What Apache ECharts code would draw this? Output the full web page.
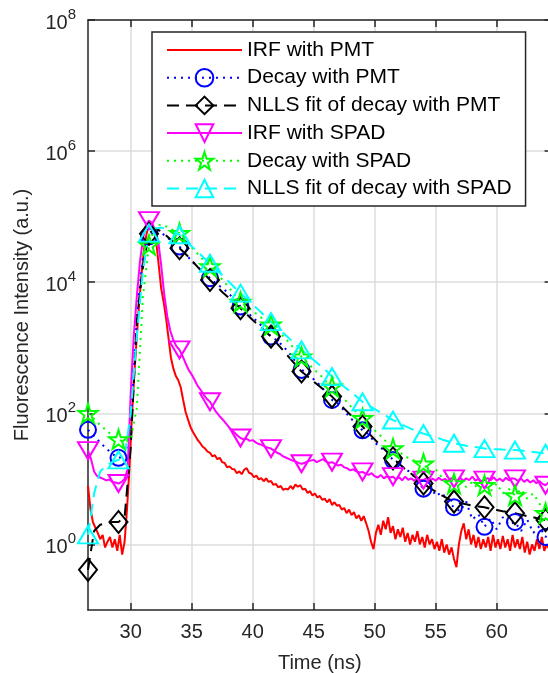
<!DOCTYPE html>
<html><head><meta charset="utf-8">
<script src="https://cdn.jsdelivr.net/npm/echarts@6/dist/echarts.min.js"></script>
<style>html,body{margin:0;padding:0;background:#fff}#c{width:548px;height:673px}</style>
</head><body><div id="c"></div>
<script>
// ---- data (time axis in ns, intensity in a.u.) ----
const T0 = 26.5;               // first time sample (ns)
const xTicks = [30, 35, 40, 45, 50, 55, 60];
const yTicks = [1, 100, 1e4, 1e6, 1e8];

// IRF with PMT, 0.2 ns bins from 26.5 ns (rows = 1 ns)
const irfPMT = [
  7.8, 3.5, 2.2, 1.8, 1.5,
  1.2, 1.4, 0.9, 1.1, 1.3,
  0.9, 1.2, 0.8, 1.4, 0.7,
  1.1, 3.5, 15, 90, 400,
  1500, 5000, 14000, 32000, 55000,
  75000, 80000, 65000, 40000, 18000,
  8000, 5000, 2800, 1400, 700,
  480, 370, 320, 250, 160,
  105, 80, 62, 52, 45,
  39, 35, 31, 29, 26,
  25, 22, 23, 20, 21,
  18, 17.5, 15, 15.5, 14.2,
  14, 12.2, 13, 11.8, 13.8,
  14.6, 12.4, 12, 10.6, 11.2,
  9.8, 10.3, 9.2, 10.2, 9.0,
  9.3, 8.1, 8.4, 7.4, 7.8,
  6.8, 7.1, 6.9, 7.8, 7.0,
  8.2, 7.6, 8.0, 6.9, 7.1,
  6.1, 6.5, 5.6, 6.0, 5.2,
  5.5, 4.8, 5.0, 4.4, 4.9,
  4.0, 4.4, 3.9, 4.0, 3.4,
  3.6, 3.0, 3.4, 2.8, 3.1,
  2.5, 2.8, 2.3, 2.7, 2.1,
  1.6, 1.1, 0.85, 1.5, 2.0,
  1.4, 2.3, 1.7, 2.6, 1.5,
  1.9, 1.2, 1.7, 1.3, 1.8,
  1.1, 1.5, 1.0, 1.4, 1.1,
  1.6, 1.0, 1.3, 0.9, 1.4,
  1.0, 1.2, 0.85, 1.1, 0.8,
  1.2, 0.75, 1.0, 0.7, 0.9,
  0.6, 0.45, 1.0, 1.6, 2.1,
  1.2, 1.7, 1.0, 1.4, 0.9,
  1.3, 0.85, 1.2, 0.9, 1.3,
  0.8, 1.4, 0.9, 1.2, 0.85,
  1.35, 0.9, 1.2, 0.8, 1.4,
  0.9, 1.2, 0.85, 1.3, 0.75,
  1.1, 0.7, 1.0, 0.8, 1.2,
  0.85, 1.3, 0.8, 1.0, 0.85,
  1.1
];

// Decay with PMT, 0.5 ns bins (rows = 5 ns)
const decayPMT = [
  56, 45, 36, 29, 24, 21, 22, 60, 3000, 25000,
  50000, 62000, 57000, 48000, 40000, 35000, 27000, 21000, 17000, 14000,
  11500, 9500, 8200, 6800, 5500, 4260, 3600, 2900, 2400, 1900,
  1480, 1300, 1050, 830, 620, 460, 420, 330, 270, 210,
  160, 140, 110, 85, 70, 55, 48, 36, 30, 25,
  19.4, 17, 14, 12.5, 9, 7.1, 8.5, 5.5, 6.2, 4.5,
  3.7, 3.2, 4.5, 2.4, 2.9, 1.86, 2.5, 1.7, 2.6, 2.0,
  2.2, 1.6, 2.4, 1.5, 1.9, 1.3,
  1.6
];

// NLLS fit of decay with PMT, 0.5 ns bins
const fitPMT = [
  0.41, 1.6, 2.0, 2.1, 2.2, 2.2, 2.6, 30, 2600, 17000,
  55000, 66000, 60000, 50000, 41000, 33000, 27000, 21500, 17000, 13700,
  10800, 8800, 7100, 5900, 4800, 4000, 3250, 2650, 2200, 1800,
  1480, 1160, 910, 710, 555, 435, 365, 305, 256, 215,
  180, 145, 118, 95, 77, 63, 50, 40, 32, 26,
  20.6, 17, 14, 12, 10, 8.5, 7.3, 6.4, 5.6, 5.0,
  4.5, 4.3, 4.1, 3.9, 3.8, 3.7, 3.5, 3.35, 3.2, 3.1,
  3.0, 2.85, 2.7, 2.6, 2.45, 2.35,
  2.3
];

// IRF with SPAD, 0.25 ns bins (rows = 1 ns)
const irfSPAD = [
  27, 20, 13, 11,
  10.5, 10, 9.5, 9.8,
  9, 8.8, 8.5, 9,
  10, 14, 200, 1500,
  6000, 20000, 45000, 75000,
  87000, 80000, 62000, 43000,
  18000, 6500, 3000, 1800,
  1300, 1050, 930, 750,
  580, 460, 390, 320,
  260, 225, 190, 165,
  150, 125, 105, 92,
  82, 72, 63, 56,
  51, 46, 42, 40,
  41, 38, 39, 36,
  34, 33, 31, 30,
  29, 27, 25, 24,
  22, 21, 20, 19,
  18.5, 17.5, 17, 17.5,
  18.5, 19, 19.5, 18,
  19, 20, 18.5, 17.5,
  18, 17, 16, 16.5,
  15, 14.5, 13.5, 14,
  13, 12.5, 12.8, 12,
  11.5, 12.2, 11, 10.5,
  11.5, 10.2, 11, 10.5,
  10.8, 9.8, 10.6, 9.5,
  10.8, 9.7, 10.2, 9.3,
  10.5, 9.6, 9.6, 10.3,
  9.2, 10.1, 9.4, 10.4,
  9.5, 10, 9.2, 10.2,
  10, 9.4, 10.5, 9.3,
  10.2, 9.6, 10.8, 9.4,
  10, 9.2, 9.6, 10.3,
  9.5, 10.6, 9.4, 10.1,
  9.2, 10.4, 9.5, 10.2,
  10, 9.3, 10.1, 9,
  9.8, 8.8, 9.5, 8.6,
  9.3, 8.4, 8, 8.8,
  8.5
];

// Decay with SPAD, 0.5 ns bins
const decaySPAD = [
  100, 82, 66, 55, 46, 40, 36, 40, 120, 6000,
  37000, 72000, 76000, 70000, 62000, 56000, 44000, 34000, 27000, 21500,
  17400, 14000, 11000, 8500, 6500, 5000, 4300, 3650, 3050, 2650,
  2240, 1800, 1500, 1200, 920, 730, 590, 470, 390, 310,
  255, 200, 165, 130, 105, 84, 70, 55, 45, 36,
  29, 26, 22, 20, 18, 17, 13, 14, 10.5, 11,
  8.5, 10, 7.5, 9, 7, 8, 6.5, 8.5, 6, 7,
  5.6, 7, 5, 6, 4.2, 3.0,
  4.5
];

// NLLS fit of decay with SPAD, 0.5 ns bins
const fitSPAD = [
  1.4, 6, 13, 16, 18, 19.5, 22, 100, 1500, 15000,
  56000, 66000, 68000, 64000, 58000, 53000, 43000, 35000, 29000, 23500,
  19500, 15800, 12800, 10400, 8400, 6800, 5600, 4600, 3750, 3050,
  2500, 2050, 1680, 1380, 1130, 930, 780, 650, 540, 450,
  363, 305, 255, 215, 180, 150, 132, 116, 102, 90,
  79, 71, 64, 58, 53, 49, 46, 43, 40, 37.5,
  35, 33.5, 32, 31, 30, 29, 28.6, 28.3, 28, 27.8,
  27.5, 27, 26.4, 25.8, 25.1, 24.5,
  24
];

const names = ['IRF with PMT', 'Decay with PMT', 'NLLS fit of decay with PMT',
               'IRF with SPAD', 'Decay with SPAD', 'NLLS fit of decay with SPAD'];

// ---- helpers ----
function pairs(vals, step) { return vals.map((v, i) => [Math.round((T0 + i * step) * 100) / 100, v]); }
function markers(vals, step, every) {
  const out = [];
  for (let i = 0; i < vals.length; i += every) {
    const t = Math.round((T0 + i * step) * 100) / 100;
    if (t <= 64.01) out.push([t, vals[i]]);
  }
  return out;
}
const FONT = 'Liberation Sans, Arial, Helvetica, sans-serif';
const AX = '#262626';
const STAR = 'path://M100,0 L122.45,69.1 L195.1,69.1 L136.3,111.8 L158.8,180.9 L100,138.2 L41.2,180.9 L63.7,111.8 L4.9,69.1 L77.55,69.1 Z';
const DASH = [12, 7], DOT = [2, 5];
const TRANSP = 'rgba(0,0,0,0)';

function dense(name, data, color, type) {
  return { type: 'line', name: name, data: data, symbol: 'none', silent: true,
    lineStyle: { color: color, width: 2, type: type }, itemStyle: { color: color }, z: 2 };
}
function marks(name, data, color, symbol, size, rotate) {
  return { type: 'line', name: name, data: data, symbol: symbol, symbolSize: size,
    symbolRotate: rotate || 0, showSymbol: true, showAllSymbol: true, silent: true,
    lineStyle: { color: color, width: 2, opacity: 0 },
    itemStyle: { color: TRANSP, borderColor: color, borderWidth: 2 }, z: 3 };
}
function legItem(name, color, type, hasMarker) {
  return { name: name,
    itemStyle: hasMarker ? { color: TRANSP, borderColor: color, borderWidth: 2, opacity: 1 } : { opacity: 0 },
    lineStyle: { color: color, width: 2, type: type, opacity: 1 } };
}

const chart = echarts.init(document.getElementById('c'), null, { renderer: 'canvas' });

const axisLineStyle = { color: AX, width: 1.5 };
const labelStyle = { fontSize: 20, fontFamily: FONT, color: AX };

chart.setOption({
  animation: false,
  backgroundColor: '#fff',
  grid: { left: 88, top: 20, width: 463.6, height: 590, containLabel: false, outerBoundsMode: 'none' },
  xAxis: [{
    type: 'value', min: 26.5, max: 64.5, position: 'bottom',
    axisLine: { show: true, onZero: false, lineStyle: axisLineStyle },
    axisTick: { show: true, inside: true, length: 7, customValues: xTicks, lineStyle: axisLineStyle },
    axisLabel: { show: true, customValues: xTicks, margin: 12, ...labelStyle },
    splitLine: { show: true, lineStyle: { color: '#dcdcdc', width: 1.5 } },
    name: 'Time (ns)', nameLocation: 'middle', nameGap: 43,
    nameTextStyle: { fontSize: 20, fontFamily: FONT, color: AX }
  }, {
    type: 'value', min: 26.5, max: 64.5, position: 'top',
    axisLine: { show: true, onZero: false, lineStyle: axisLineStyle },
    axisTick: { show: true, inside: true, length: 7, customValues: xTicks, lineStyle: axisLineStyle },
    axisLabel: { show: false }, splitLine: { show: false }
  }],
  yAxis: [{
    type: 'log', logBase: 10, min: 0.1, max: 1e8, position: 'left',
    axisLine: { show: true, onZero: false, lineStyle: axisLineStyle },
    axisTick: { show: true, inside: true, length: 7, customValues: yTicks, lineStyle: axisLineStyle },
    minorTick: { show: false },
    axisLabel: { show: true, customValues: yTicks, margin: 12,
      formatter: v => '{b|10}{s|' + Math.round(Math.log10(v)) + '}',
      rich: {
        b: { fontSize: 20, fontFamily: FONT, color: AX, lineHeight: 26, verticalAlign: 'bottom' },
        s: { fontSize: 15, fontFamily: FONT, color: AX, lineHeight: 15, verticalAlign: 'top' }
      } },
    splitLine: { show: true, lineStyle: { color: '#dcdcdc', width: 1.5 } },
    name: 'Fluorescence Intensity (a.u.)', nameLocation: 'middle', nameGap: 56,
    nameTextStyle: { fontSize: 20, fontFamily: FONT, color: AX }
  }, {
    type: 'log', logBase: 10, min: 0.1, max: 1e8, position: 'right',
    axisLine: { show: true, onZero: false, lineStyle: axisLineStyle },
    axisTick: { show: true, inside: true, length: 7, customValues: yTicks, lineStyle: axisLineStyle },
    axisLabel: { show: false }, splitLine: { show: false }
  }],
  legend: {
    left: 152, top: 32, orient: 'vertical', selectedMode: false,
    itemWidth: 75, itemHeight: 22, itemGap: 5.7, padding: [7, 14, 6.5, 14],
    borderColor: AX, borderWidth: 1.5, backgroundColor: '#fff', borderRadius: 0,
    textStyle: { fontSize: 21, fontFamily: FONT, color: '#000', lineHeight: 22 },
    data: [
      legItem(names[0], '#ff0000', 'solid', false),
      legItem(names[1], '#0000ff', DOT, true),
      legItem(names[2], '#000000', DASH, true),
      legItem(names[3], '#ff00ff', 'solid', true),
      legItem(names[4], '#00ff00', DOT, true),
      legItem(names[5], '#00ffff', DASH, true)
    ]
  },
  series: [
    dense(names[0], pairs(irfPMT, 0.2), '#ff0000', 'solid'),
    dense('_d1', pairs(decayPMT, 0.5), '#0000ff', DOT),
    marks(names[1], markers(decayPMT, 0.5, 5), '#0000ff', 'circle', 16),
    dense('_d2', pairs(fitPMT, 0.5), '#000000', DASH),
    marks(names[2], markers(fitPMT, 0.5, 5), '#000000', 'diamond', [18, 22]),
    dense('_d3', pairs(irfSPAD, 0.25), '#ff00ff', 'solid'),
    marks(names[3], markers(irfSPAD, 0.25, 10), '#ff00ff', 'triangle', [20, 17], 180),
    dense('_d4', pairs(decaySPAD, 0.5), '#00ff00', DOT),
    marks(names[4], markers(decaySPAD, 0.5, 5), '#00ff00', STAR, 19),
    dense('_d5', pairs(fitSPAD, 0.5), '#00ffff', DASH),
    marks(names[5], markers(fitSPAD, 0.5, 5), '#00ffff', 'triangle', [20, 17])
  ]
});
</script></body></html>
